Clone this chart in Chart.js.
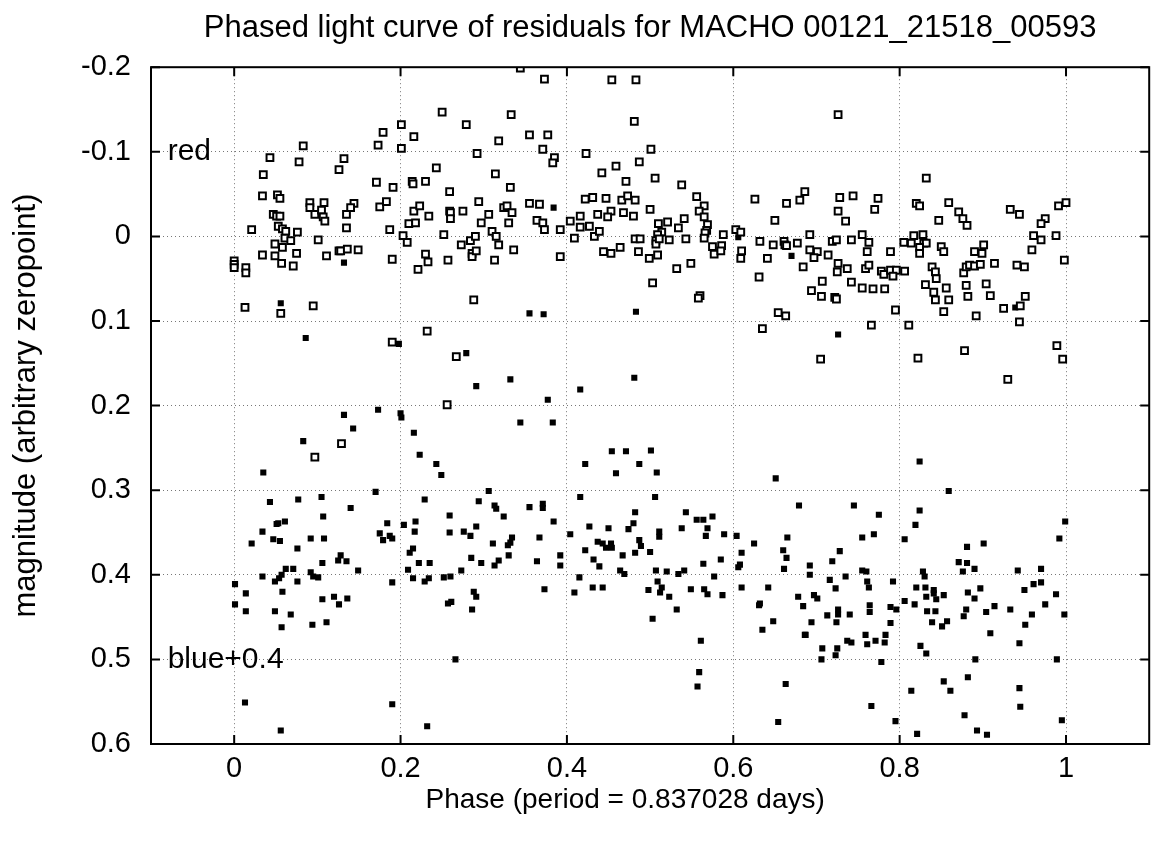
<!DOCTYPE html>
<html>
<head>
<meta charset="utf-8">
<script src="https://cdn.jsdelivr.net/npm/chart.js@4"></script>
<style>
  body { margin: 0; background: #fff; }
  canvas { display: block; }
</style>
</head>
<body>
<canvas id="lc" width="1156" height="846"></canvas>
<script>
// phased light curve: [phase, magnitude]
const redPoints = [
  [0.083,-0.107],[0.043,-0.093],[0.078,-0.088],[0.035,-0.073],[0.034,-0.048],[0.052,-0.049],[0.055,-0.045],
  [0.091,-0.040],[0.091,-0.034],[0.097,-0.026],[0.047,-0.026],[0.051,-0.024],[0.055,-0.024],[0.021,-0.008],
  [0.053,-0.012],[0.058,-0.009],[0.062,-0.006],[0.076,-0.005],[0.061,0.002],[0.068,0.005],[0.049,0.009],
  [0.058,0.013],[0.034,0.022],[0.049,0.023],[0.075,0.020],[0.057,0.032],[0.071,0.035],[0.000,0.029],
  [0.000,0.033],[0.000,0.037],[0.014,0.037],[0.014,0.043],[0.013,0.084],[0.056,0.091],[0.095,0.082],
  [0.250,-0.147],[0.201,-0.132],[0.279,-0.132],[0.179,-0.123],[0.216,-0.118],[0.173,-0.108],[0.201,-0.104],
  [0.292,-0.098],[0.132,-0.092],[0.126,-0.079],[0.243,-0.081],[0.171,-0.064],[0.191,-0.058],[0.214,-0.065],
  [0.215,-0.062],[0.230,-0.065],[0.259,-0.053],[0.294,-0.041],[0.108,-0.040],[0.105,-0.031],[0.107,-0.023],
  [0.109,-0.018],[0.144,-0.039],[0.140,-0.034],[0.135,-0.026],[0.135,-0.010],[0.175,-0.035],[0.183,-0.041],
  [0.187,-0.008],[0.216,-0.030],[0.223,-0.036],[0.210,-0.015],[0.218,-0.016],[0.234,-0.024],[0.259,-0.030],
  [0.260,-0.028],[0.260,-0.021],[0.275,-0.030],[0.203,-0.001],[0.208,0.007],[0.252,-0.002],[0.273,0.010],
  [0.284,0.005],[0.290,0.000],[0.286,0.020],[0.286,0.024],[0.291,0.017],[0.101,0.004],[0.111,0.023],
  [0.126,0.017],[0.128,0.017],[0.136,0.015],[0.149,0.016],[0.190,0.027],[0.230,0.021],[0.233,0.030],
  [0.221,0.039],[0.257,0.028],[0.288,0.075],[0.232,0.112],[0.190,0.125],[0.267,0.142],
  [0.344,-0.199],[0.373,-0.186],[0.454,-0.185],[0.483,-0.185],[0.333,-0.144],[0.481,-0.136],[0.355,-0.120],
  [0.377,-0.120],[0.318,-0.113],[0.371,-0.103],[0.385,-0.093],[0.383,-0.087],[0.423,-0.098],[0.487,-0.088],
  [0.459,-0.083],[0.442,-0.075],[0.471,-0.065],[0.314,-0.074],[0.332,-0.058],[0.306,-0.026],[0.297,-0.016],
  [0.324,-0.034],[0.328,-0.036],[0.334,-0.028],[0.330,-0.016],[0.355,-0.039],[0.367,-0.038],[0.364,-0.019],
  [0.371,-0.016],[0.373,-0.008],[0.392,-0.008],[0.310,-0.006],[0.315,0.000],[0.318,0.010],[0.336,0.016],
  [0.313,0.028],[0.392,0.024],[0.404,-0.018],[0.409,0.002],[0.416,-0.024],[0.416,-0.011],[0.422,-0.044],
  [0.431,-0.046],[0.427,-0.012],[0.437,-0.026],[0.433,0.000],[0.439,-0.006],[0.447,-0.045],[0.453,-0.030],
  [0.449,-0.023],[0.466,-0.043],[0.473,-0.048],[0.482,-0.043],[0.468,-0.028],[0.480,-0.024],[0.444,0.018],
  [0.453,0.020],[0.464,0.013],[0.482,0.003],[0.488,0.003],[0.486,0.018],
  [0.501,-0.103],[0.506,-0.069],[0.538,-0.061],[0.556,-0.047],[0.500,-0.032],[0.565,-0.036],[0.559,-0.030],
  [0.565,-0.023],[0.569,-0.014],[0.568,-0.007],[0.566,-0.004],[0.565,0.002],[0.541,-0.021],[0.534,-0.010],
  [0.521,-0.017],[0.510,-0.015],[0.514,-0.005],[0.509,-0.002],[0.507,0.005],[0.507,0.009],[0.511,0.003],
  [0.523,0.004],[0.543,0.003],[0.588,-0.002],[0.499,0.026],[0.509,0.022],[0.575,0.012],[0.586,0.011],
  [0.577,0.021],[0.585,0.017],[0.532,0.038],[0.549,0.032],[0.503,0.055],[0.560,0.070],[0.558,0.073],
  [0.603,-0.008],[0.609,-0.005],[0.610,0.017],[0.609,0.026],[0.632,0.006],[0.648,0.010],[0.661,0.006],
  [0.662,0.010],[0.664,0.011],[0.677,0.008],[0.641,0.026],[0.631,0.048],[0.684,0.036],[0.626,-0.044],
  [0.650,-0.019],[0.664,-0.039],[0.680,-0.043],[0.686,-0.053],[0.654,0.090],[0.663,0.094],[0.635,0.109],
  [0.726,-0.144],[0.832,-0.069],[0.728,-0.046],[0.744,-0.048],[0.774,-0.045],[0.726,-0.030],[0.770,-0.032],
  [0.735,-0.018],[0.820,-0.039],[0.824,-0.036],[0.859,-0.040],[0.871,-0.029],[0.876,-0.021],[0.881,-0.013],
  [0.847,-0.019],[0.692,-0.002],[0.719,0.006],[0.724,0.004],[0.742,0.004],[0.755,-0.002],[0.763,0.007],
  [0.761,0.018],[0.692,0.016],[0.701,0.018],[0.697,0.025],[0.714,0.022],[0.726,0.032],[0.725,0.042],
  [0.737,0.038],[0.759,0.038],[0.763,0.034],[0.789,0.018],[0.778,0.041],[0.781,0.045],[0.789,0.040],
  [0.796,0.040],[0.792,0.047],[0.806,0.041],[0.707,0.053],[0.742,0.054],[0.694,0.064],[0.706,0.071],
  [0.722,0.072],[0.724,0.074],[0.755,0.061],[0.768,0.062],[0.782,0.062],[0.795,0.087],[0.766,0.105],
  [0.811,0.105],[0.705,0.145],[0.822,0.144],[0.805,0.007],[0.814,0.008],[0.817,-0.001],[0.828,-0.002],
  [0.829,0.008],[0.832,0.008],[0.824,0.013],[0.824,0.020],[0.850,0.012],[0.853,0.018],[0.839,0.036],
  [0.843,0.042],[0.844,0.050],[0.831,0.057],[0.841,0.066],[0.843,0.075],[0.856,0.061],[0.859,0.075],
  [0.853,0.089],[0.877,0.043],[0.880,0.036],[0.880,0.058],[0.882,0.071],[0.878,0.135],
  [1.000,-0.040],[0.991,-0.036],[0.933,-0.032],[0.944,-0.026],[0.975,-0.021],[0.970,-0.015],[0.961,-0.001],
  [0.970,0.004],[0.988,-0.001],[0.959,0.016],[0.998,0.028],[0.901,0.010],[0.890,0.018],[0.899,0.020],
  [0.884,0.034],[0.890,0.035],[0.897,0.033],[0.914,0.032],[0.941,0.034],[0.950,0.036],[0.904,0.056],
  [0.909,0.070],[0.951,0.071],[0.925,0.085],[0.945,0.082],[0.892,0.094],[0.944,0.101],[0.989,0.129],
  [0.996,0.145],[0.097,0.261],[0.129,0.245],[0.256,0.199],[0.930,0.169]
];

// blue already shifted by +0.4
const bluePoints = [
  [0.056,0.079],[0.086,0.120],[0.132,0.031],[0.198,0.127],[0.279,0.138],[0.384,-0.034],[0.355,0.091],
  [0.372,0.092],[0.483,0.089],[0.606,0.001],[0.670,0.023],[0.726,0.116],[0.939,0.084],
  [0.083,0.242],[0.035,0.279],[0.043,0.314],[0.077,0.311],[0.051,0.340],[0.053,0.339],[0.061,0.337],
  [0.034,0.349],[0.021,0.363],[0.047,0.358],[0.055,0.360],[0.076,0.369],[0.092,0.357],[0.062,0.393],
  [0.071,0.393],[0.034,0.402],[0.057,0.400],[0.054,0.404],[0.049,0.408],[0.076,0.408],[0.092,0.397],
  [0.095,0.402],[0.001,0.411],[0.014,0.422],[0.058,0.420],[0.001,0.435],[0.014,0.443],[0.049,0.443],
  [0.068,0.447],[0.057,0.462],[0.094,0.459],[0.013,0.551],[0.056,0.584],
  [0.291,0.177],[0.132,0.211],[0.173,0.205],[0.200,0.209],[0.201,0.214],[0.143,0.227],[0.216,0.232],
  [0.223,0.258],[0.243,0.269],[0.249,0.282],[0.170,0.302],[0.105,0.308],[0.229,0.311],[0.294,0.313],
  [0.140,0.321],[0.107,0.331],[0.259,0.330],[0.184,0.339],[0.204,0.341],[0.218,0.337],[0.217,0.349],
  [0.259,0.350],[0.276,0.349],[0.284,0.354],[0.291,0.343],[0.108,0.357],[0.175,0.351],[0.179,0.359],
  [0.187,0.354],[0.190,0.357],[0.215,0.369],[0.211,0.374],[0.128,0.377],[0.125,0.383],[0.135,0.384],
  [0.106,0.386],[0.149,0.395],[0.101,0.403],[0.222,0.386],[0.235,0.386],[0.209,0.394],[0.215,0.404],
  [0.229,0.408],[0.234,0.404],[0.190,0.409],[0.252,0.403],[0.260,0.402],[0.273,0.395],[0.285,0.380],
  [0.288,0.420],[0.291,0.426],[0.257,0.434],[0.261,0.432],[0.286,0.441],[0.106,0.429],[0.120,0.426],
  [0.126,0.435],[0.136,0.428],[0.111,0.456],[0.266,0.500],[0.190,0.553],[0.232,0.579],
  [0.332,0.169],[0.377,0.193],[0.416,0.181],[0.481,0.167],[0.344,0.220],[0.383,0.220],[0.454,0.254],
  [0.471,0.254],[0.422,0.269],[0.459,0.280],[0.487,0.269],[0.306,0.301],[0.313,0.318],[0.315,0.322],
  [0.324,0.331],[0.355,0.320],[0.371,0.316],[0.371,0.321],[0.384,0.337],[0.311,0.363],[0.334,0.356],
  [0.332,0.362],[0.329,0.365],[0.367,0.356],[0.297,0.386],[0.313,0.389],[0.318,0.383],[0.330,0.377],
  [0.364,0.384],[0.392,0.377],[0.392,0.389],[0.373,0.417],[0.416,0.308],[0.404,0.352],[0.427,0.343],
  [0.450,0.345],[0.474,0.346],[0.480,0.339],[0.482,0.326],[0.487,0.359],[0.489,0.366],[0.422,0.371],
  [0.437,0.361],[0.443,0.363],[0.453,0.363],[0.447,0.368],[0.454,0.368],[0.467,0.377],[0.482,0.374],
  [0.432,0.382],[0.439,0.390],[0.464,0.395],[0.469,0.399],[0.415,0.403],[0.409,0.421],[0.431,0.415],
  [0.443,0.415],
  [0.501,0.253],[0.508,0.279],[0.651,0.286],[0.506,0.308],[0.679,0.318],[0.543,0.326],[0.556,0.335],
  [0.564,0.335],[0.575,0.331],[0.538,0.345],[0.569,0.345],[0.511,0.349],[0.511,0.355],[0.567,0.354],
  [0.589,0.352],[0.604,0.354],[0.500,0.373],[0.625,0.363],[0.665,0.356],[0.610,0.374],[0.660,0.371],
  [0.664,0.380],[0.564,0.387],[0.585,0.382],[0.608,0.388],[0.606,0.391],[0.661,0.393],[0.507,0.395],
  [0.520,0.396],[0.534,0.399],[0.541,0.395],[0.577,0.402],[0.509,0.408],[0.514,0.415],[0.512,0.421],
  [0.498,0.418],[0.523,0.426],[0.549,0.417],[0.565,0.417],[0.569,0.423],[0.587,0.424],[0.532,0.441],
  [0.503,0.452],[0.561,0.478],[0.610,0.415],[0.642,0.415],[0.632,0.434],[0.631,0.436],[0.678,0.426],
  [0.684,0.437],[0.648,0.455],[0.635,0.465],[0.686,0.471],[0.559,0.515],[0.557,0.532],[0.663,0.529],
  [0.654,0.574],
  [0.824,0.266],[0.859,0.301],[0.745,0.318],[0.775,0.329],[0.824,0.324],[0.819,0.341],[0.755,0.356],
  [0.769,0.352],[0.806,0.358],[0.728,0.372],[0.719,0.384],[0.692,0.389],[0.692,0.400],[0.881,0.367],
  [0.871,0.385],[0.881,0.386],[0.876,0.396],[0.755,0.395],[0.760,0.396],[0.735,0.402],[0.716,0.406],
  [0.723,0.416],[0.761,0.408],[0.763,0.415],[0.792,0.408],[0.828,0.396],[0.830,0.402],[0.820,0.415],
  [0.831,0.415],[0.841,0.418],[0.841,0.422],[0.853,0.424],[0.832,0.426],[0.844,0.429],[0.882,0.421],
  [0.697,0.424],[0.701,0.428],[0.726,0.441],[0.726,0.447],[0.724,0.456],[0.713,0.448],[0.740,0.447],
  [0.764,0.436],[0.764,0.444],[0.789,0.438],[0.796,0.441],[0.789,0.457],[0.806,0.431],[0.818,0.435],
  [0.833,0.443],[0.843,0.443],[0.839,0.456],[0.851,0.461],[0.857,0.455],[0.880,0.441],[0.877,0.449],
  [0.694,0.456],[0.687,0.471],[0.707,0.487],[0.706,0.500],[0.725,0.487],[0.723,0.495],[0.737,0.478],
  [0.742,0.480],[0.759,0.471],[0.761,0.482],[0.771,0.478],[0.782,0.480],[0.783,0.471],[0.778,0.503],
  [0.825,0.484],[0.832,0.493],[0.882,0.521],[0.853,0.526],[0.861,0.537],[0.814,0.537],[0.766,0.555],
  [0.795,0.573],[0.821,0.588],[0.878,0.566],
  [0.999,0.337],[0.992,0.357],[0.901,0.363],[0.890,0.393],[0.942,0.395],[0.970,0.393],[0.970,0.409],
  [0.961,0.411],[0.950,0.418],[0.897,0.416],[0.890,0.428],[0.988,0.423],[0.975,0.435],[0.914,0.437],
  [0.904,0.444],[0.933,0.441],[0.959,0.447],[0.998,0.447],[0.951,0.459],[0.909,0.469],[0.944,0.481],
  [0.891,0.500],[0.989,0.500],[0.944,0.534],[0.945,0.556],[0.995,0.572],[0.893,0.584],[0.905,0.589]
];

const xTickValues = [0, 0.2, 0.4, 0.6, 0.8, 1];
const xTickLabels = ["0", "0.2", "0.4", "0.6", "0.8", "1"];
const yTickValues = [-0.2, -0.1, 0, 0.1, 0.2, 0.3, 0.4, 0.5, 0.6];
const yTickLabels = ["-0.2", "-0.1", "0", "0.1", "0.2", "0.3", "0.4", "0.5", "0.6"];
const seriesNotes = [
  { text: "red", x: -0.08, y: -0.1 },
  { text: "blue+0.4", x: -0.08, y: 0.5 }
];
const xTitle = "Phase (period = 0.837028 days)";

const FONT = "'Liberation Sans', Arial, sans-serif";

// frame, inward tick marks, in-plot labels and the x label (gnuplot style)
const frame = {
  id: "frame",
  afterDatasetsDraw(chart) {
    const { ctx, chartArea: a, scales } = chart;
    ctx.save();
    ctx.strokeStyle = "#000";
    ctx.lineWidth = 2;
    ctx.beginPath();
    xTickValues.forEach(v => {
      const px = scales.x.getPixelForValue(v);
      ctx.moveTo(px, a.top); ctx.lineTo(px, a.top + 9);
      ctx.moveTo(px, a.bottom); ctx.lineTo(px, a.bottom - 9);
    });
    yTickValues.forEach(v => {
      const py = scales.y.getPixelForValue(v);
      ctx.moveTo(a.left, py); ctx.lineTo(a.left + 9, py);
      ctx.moveTo(a.right, py); ctx.lineTo(a.right - 9, py);
    });
    ctx.stroke();
    ctx.strokeRect(a.left, a.top, a.right - a.left, a.bottom - a.top);

    ctx.fillStyle = "#000";
    ctx.font = "30px " + FONT;
    ctx.textAlign = "left";
    ctx.textBaseline = "middle";
    seriesNotes.forEach(n => {
      ctx.fillText(n.text, scales.x.getPixelForValue(n.x), scales.y.getPixelForValue(n.y));
    });

    // x label sits a little left of the plot centre in the original
    ctx.font = "28px " + FONT;
    ctx.textAlign = "center";
    ctx.fillText(xTitle, scales.x.getPixelForValue(0.47), a.bottom + 56);
    ctx.restore();
  }
};

new Chart(document.getElementById("lc"), {
  type: "scatter",
  data: {
    datasets: [
      {
        label: "red",
        data: redPoints.map(p => ({ x: p[0], y: p[1] })),
        pointStyle: "rect",
        radius: 4.8,
        borderWidth: 2,
        borderColor: "#000",
        backgroundColor: "#fff"
      },
      {
        label: "blue+0.4",
        data: bluePoints.map(p => ({ x: p[0], y: p[1] })),
        pointStyle: "rect",
        radius: 4.3,
        borderWidth: 0,
        borderColor: "#000",
        backgroundColor: "#000"
      }
    ]
  },
  options: {
    responsive: false,
    animation: false,
    layout: { padding: { left: 0, right: 1, top: 0, bottom: 0 } },
    plugins: {
      legend: { display: false },
      tooltip: { enabled: false },
      title: {
        display: true,
        fullSize: false,
        text: "Phased light curve of residuals for MACHO 00121_21518_00593",
        color: "#000",
        font: { family: FONT, size: 31, weight: "normal" },
        padding: { top: 10, bottom: 20 }
      }
    },
    scales: {
      x: {
        type: "linear",
        min: -0.1,
        max: 1.1,
        afterBuildTicks: s => { s.ticks = xTickValues.map(v => ({ value: v })); },
        afterFit: s => { s.height = 102; },
        ticks: {
          color: "#000",
          font: { family: FONT, size: 29 },
          padding: 8,
          maxRotation: 0,
          callback: (v, i) => xTickLabels[i]
        },
        grid: { color: "#777", lineWidth: 1, drawTicks: false },
        border: { display: false, dash: [1, 3] }
      },
      y: {
        type: "linear",
        min: -0.2,
        max: 0.6,
        reverse: true,
        afterBuildTicks: s => { s.ticks = yTickValues.map(v => ({ value: v })); },
        afterFit: s => { s.width = 151; },
        ticks: {
          color: "#000",
          font: { family: FONT, size: 29 },
          padding: 20,
          callback: (v, i) => yTickLabels[i]
        },
        grid: { color: "#777", lineWidth: 1, drawTicks: false },
        border: { display: false, dash: [1, 3] },
        title: {
          display: true,
          text: "magnitude (arbitrary zeropoint)",
          color: "#000",
          font: { family: FONT, size: 31 },
          padding: { top: 8, bottom: 8 }
        }
      }
    }
  },
  plugins: [frame]
});
</script>
</body>
</html>
